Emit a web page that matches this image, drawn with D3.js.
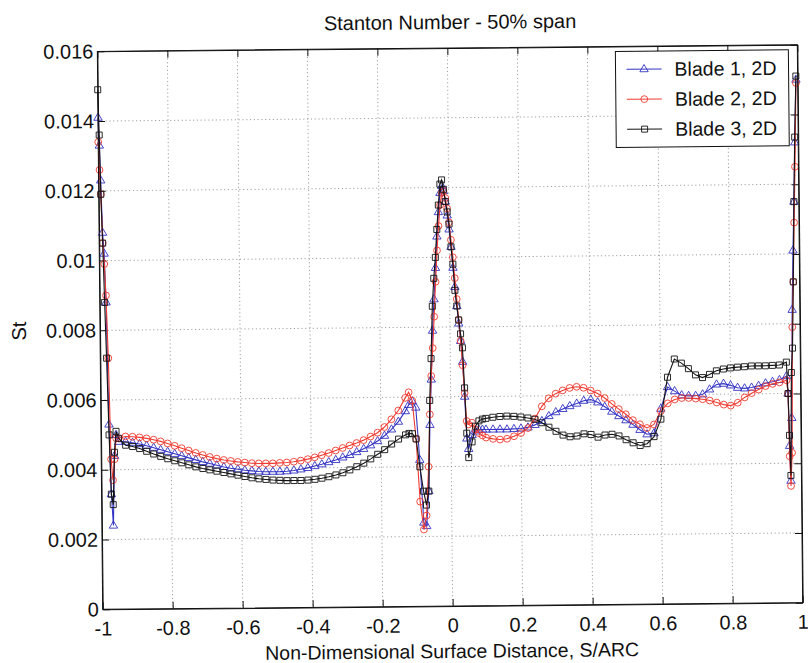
<!DOCTYPE html>
<html><head><meta charset="utf-8">
<script src="https://cdn.jsdelivr.net/npm/d3@7"></script>
<style>
body{margin:0;background:#fff}
svg{display:block}
text{font-family:"Liberation Sans",Arial,Helvetica,sans-serif;fill:#111}
</style>
</head><body>
<svg id="chart" width="808" height="663"></svg>
<script>
const chartTitle = "Stanton Number - 50% span";
const xLabel = "Non-Dimensional Surface Distance, S/ARC";
const yLabel = "St";
const xTicks = [-1, -0.8, -0.6, -0.4, -0.2, 0, 0.2, 0.4, 0.6, 0.8, 1];
const yTicks = [0, 0.002, 0.004, 0.006, 0.008, 0.01, 0.012, 0.014, 0.016];
const seriesNames = ["Blade 1, 2D", "Blade 2, 2D", "Blade 3, 2D"];

// S/ARC positions (shared by the three blades)
const sArc = [
  -1.0, -0.997, -0.994, -0.99, -0.986, -0.982, -0.977, -0.972, -0.967, -0.962, -0.957, -0.95,
  -0.93, -0.91, -0.89, -0.87, -0.85, -0.83, -0.81, -0.79, -0.77, -0.75,
  -0.73, -0.71, -0.69, -0.67, -0.65, -0.63, -0.61, -0.59, -0.57, -0.55,
  -0.53, -0.51, -0.49, -0.47, -0.45, -0.43, -0.41, -0.39, -0.37, -0.35,
  -0.33, -0.31, -0.29, -0.27, -0.25, -0.23, -0.21, -0.19, -0.17, -0.15,
  -0.13, -0.12, -0.11, -0.10, -0.09, -0.08, -0.072, -0.065, -0.06, -0.055,
  -0.05, -0.045, -0.04, -0.035, -0.03, -0.025, -0.02, -0.015, -0.01, -0.005,
  0.0, 0.005, 0.01, 0.015, 0.02, 0.025, 0.03, 0.035, 0.04, 0.045,
  0.05, 0.06, 0.07, 0.08, 0.09,
  0.10, 0.12, 0.14, 0.16, 0.18, 0.20, 0.22, 0.24, 0.26, 0.28,
  0.30, 0.32, 0.34, 0.36, 0.38, 0.40, 0.42, 0.44, 0.46, 0.48,
  0.50, 0.52, 0.54, 0.56, 0.58, 0.60, 0.62, 0.64, 0.66, 0.68,
  0.70, 0.72, 0.74, 0.76, 0.78, 0.80, 0.82, 0.84, 0.86, 0.88,
  0.90, 0.92, 0.94, 0.96,
  0.964, 0.967, 0.970, 0.974, 0.978, 0.982, 0.986, 0.990, 0.995
];

const blade1 = [
  0.0141, 0.0133, 0.0123, 0.0108, 0.0102, 0.0088, 0.0053, 0.0033, 0.0024, 0.0044, 0.0050, 0.0048,
  0.00480, 0.00477, 0.00473, 0.00468, 0.00462, 0.00456, 0.00450, 0.00444, 0.00438, 0.00432,
  0.00426, 0.00420, 0.00415, 0.00410, 0.00405, 0.00401, 0.00398, 0.00395, 0.00393, 0.00391,
  0.00390, 0.00390, 0.00390, 0.00391, 0.00393, 0.00396, 0.00400, 0.00405, 0.00410, 0.00416,
  0.00422, 0.00429, 0.00436, 0.00444, 0.00453, 0.00463, 0.00475, 0.00490, 0.00508, 0.00530,
  0.00560, 0.00578, 0.00588, 0.00570, 0.00420, 0.00240, 0.00230, 0.00330, 0.00520, 0.00650,
  0.00790, 0.00880, 0.00970, 0.01060, 0.01130, 0.01185, 0.01205, 0.01190, 0.01160, 0.01120,
  0.01080, 0.01030, 0.00970, 0.00915, 0.00860, 0.00810, 0.00760, 0.00700, 0.00600, 0.00480,
  0.00450, 0.00490, 0.00500, 0.00505, 0.00505,
  0.00505, 0.00505, 0.00505, 0.00505, 0.00506, 0.00507, 0.00510, 0.00517, 0.00528, 0.00542,
  0.00553, 0.00562, 0.00570, 0.00577, 0.00585, 0.00588, 0.00580, 0.00567, 0.00553, 0.00540,
  0.00528, 0.00515, 0.00500, 0.00487, 0.00490, 0.00560, 0.00622, 0.00610, 0.00598, 0.00596,
  0.00596, 0.00600, 0.00614, 0.00628, 0.00630, 0.00625, 0.00618, 0.00616, 0.00618, 0.00623,
  0.00630, 0.00634, 0.00639, 0.00650,
  0.00600, 0.00450, 0.00350, 0.00530, 0.00840, 0.01010, 0.01150, 0.01320, 0.01500
];

const blade2 = [
  0.0134, 0.0126, 0.0119, 0.0105, 0.0099, 0.0090, 0.0072, 0.0043, 0.0037, 0.0043, 0.0049, 0.0049,
  0.00495, 0.00494, 0.00492, 0.00489, 0.00485, 0.00480, 0.00474, 0.00467, 0.00460, 0.00453,
  0.00446, 0.00440, 0.00434, 0.00429, 0.00425, 0.00422, 0.00419, 0.00417, 0.00415, 0.00414,
  0.00414, 0.00414, 0.00415, 0.00416, 0.00418, 0.00421, 0.00425, 0.00430, 0.00436, 0.00442,
  0.00449, 0.00456, 0.00463, 0.00470, 0.00478, 0.00488, 0.00499, 0.00515, 0.00537, 0.00562,
  0.00598, 0.00614, 0.00590, 0.00480, 0.00300, 0.00220, 0.00260, 0.00400, 0.00550, 0.00660,
  0.00740, 0.00830, 0.00930, 0.01020, 0.01090, 0.01150, 0.01185, 0.01190, 0.01170, 0.01140,
  0.01100, 0.01050, 0.01000, 0.00940, 0.00880, 0.00820, 0.00760, 0.00690, 0.00610, 0.00530,
  0.00520, 0.00525, 0.00505, 0.00495, 0.00488,
  0.00482, 0.00478, 0.00476, 0.00478, 0.00485, 0.00494, 0.00508, 0.00535, 0.00570, 0.00593,
  0.00606, 0.00615, 0.00622, 0.00625, 0.00622, 0.00614, 0.00605, 0.00592, 0.00575, 0.00560,
  0.00545, 0.00528, 0.00516, 0.00505, 0.00515, 0.00553, 0.00575, 0.00586, 0.00590, 0.00590,
  0.00588, 0.00586, 0.00582, 0.00576, 0.00570, 0.00567, 0.00575, 0.00590, 0.00602, 0.00612,
  0.00622, 0.00628, 0.00632, 0.00638,
  0.00600, 0.00420, 0.00335, 0.00430, 0.00790, 0.00920, 0.01090, 0.01250, 0.01490
];

const blade3 = [
  0.0149, 0.0136, 0.0119, 0.0105, 0.0088, 0.0072, 0.0050, 0.0033, 0.0030, 0.0045, 0.0051, 0.0049,
  0.00470, 0.00466, 0.00460, 0.00452, 0.00444, 0.00437, 0.00430, 0.00424, 0.00418, 0.00412,
  0.00406, 0.00401, 0.00397, 0.00393, 0.00389, 0.00385, 0.00381, 0.00377, 0.00373, 0.00370,
  0.00368, 0.00366, 0.00365, 0.00364, 0.00364, 0.00364, 0.00365, 0.00367, 0.00370, 0.00374,
  0.00379, 0.00385, 0.00393, 0.00402, 0.00412, 0.00424, 0.00437, 0.00450, 0.00466, 0.00480,
  0.00492, 0.00496, 0.00495, 0.00480, 0.00400, 0.00330, 0.00290, 0.00330, 0.00590, 0.00710,
  0.00860, 0.00940, 0.01000, 0.01080, 0.01150, 0.01210, 0.01222, 0.01195, 0.01160, 0.01130,
  0.01095, 0.01030, 0.00980, 0.00905, 0.00860, 0.00820, 0.00780, 0.00740, 0.00625, 0.00495,
  0.00425, 0.00470, 0.00515, 0.00530, 0.00535,
  0.00537, 0.00540, 0.00542, 0.00543, 0.00542, 0.00540, 0.00537, 0.00533, 0.00523, 0.00510,
  0.00498, 0.00487, 0.00482, 0.00484, 0.00490, 0.00488, 0.00480, 0.00486, 0.00488, 0.00483,
  0.00472, 0.00463, 0.00455, 0.00460, 0.00480, 0.00530, 0.00650, 0.00702, 0.00690, 0.00674,
  0.00656, 0.00648, 0.00657, 0.00667, 0.00672, 0.00675, 0.00677, 0.00678, 0.00680, 0.00680,
  0.00680, 0.00681, 0.00682, 0.00690,
  0.00600, 0.00480, 0.00365, 0.00660, 0.00730, 0.00920, 0.01150, 0.01335, 0.01510
];

const seriesColors = ["#3434c4", "#ef3b30", "#141414"];
const seriesMarkers = ["triangle", "circle", "square"];

// ---------------- drawing ----------------
const svg = d3.select("#chart");
const L = 100, R = 800, T = 48, B = 606;
const x = d3.scaleLinear().domain([-1, 1]).range([L, R]);
const y = d3.scaleLinear().domain([0, 0.016]).range([B, T]);

svg.append("rect").attr("width", 808).attr("height", 663).attr("fill", "#fff");

// the scanned original is slightly rotated
const g = svg.append("g").attr("transform", "rotate(-0.55,450,327)");

const fmt = d => String(+d.toFixed(3));

// grid
const grid = g.append("g").attr("stroke", "#8a8a8a").attr("stroke-width", 0.8)
  .attr("stroke-dasharray", "1.2,2.6");
grid.selectAll(".gx").data(xTicks.slice(1, -1)).join("line")
  .attr("x1", d => x(d)).attr("x2", d => x(d)).attr("y1", T).attr("y2", B);
grid.selectAll(".gy").data(yTicks.slice(1, -1)).join("line")
  .attr("y1", d => y(d)).attr("y2", d => y(d)).attr("x1", L).attr("x2", R);

// axes
function styleAxis(sel) {
  sel.selectAll("path").attr("stroke", "#111").attr("stroke-width", 1);
  sel.selectAll("line").attr("stroke", "#111").attr("stroke-width", 1);
  sel.selectAll("text").attr("font-size", 20).attr("fill", "#111")
    .style("font-family", '"Liberation Sans", Arial, sans-serif');
}
const xAxis = g.append("g").attr("transform", `translate(0,${B})`)
  .call(d3.axisBottom(x).tickValues(xTicks).tickFormat(fmt).tickSizeInner(-7).tickSizeOuter(0).tickPadding(12));
styleAxis(xAxis);
const xAxisTop = g.append("g").attr("transform", `translate(0,${T})`)
  .call(d3.axisTop(x).tickValues(xTicks).tickFormat("").tickSizeInner(-7).tickSizeOuter(0));
styleAxis(xAxisTop);
const yAxis = g.append("g").attr("transform", `translate(${L},0)`)
  .call(d3.axisLeft(y).tickValues(yTicks).tickFormat(fmt).tickSizeInner(-7).tickSizeOuter(0).tickPadding(4));
styleAxis(yAxis);
const yAxisR = g.append("g").attr("transform", `translate(${R},0)`)
  .call(d3.axisRight(y).tickValues(yTicks).tickFormat("").tickSizeInner(-7).tickSizeOuter(0));
styleAxis(yAxisR);

// marker shapes
function markerPath(type) {
  if (type === "triangle") return "M0,-4.6L4.2,2.6L-4.2,2.6Z";
  if (type === "square") return "M-3,-3H3V3H-3Z";
  return "M3.4,0A3.4,3.4 0 1,1 -3.4,0A3.4,3.4 0 1,1 3.4,0Z";
}

// series
const allSeries = [blade1, blade2, blade3];
const line = d3.line().x(d => x(d[0])).y(d => y(d[1]));
const plot = g.append("g");
allSeries.forEach((vals, i) => {
  const pts = sArc.map((s, k) => [s, vals[k]]).filter(p => p[1] !== undefined);
  plot.append("path").datum(pts).attr("d", line).attr("fill", "none")
    .attr("stroke", seriesColors[i]).attr("stroke-width", 1.1);
  plot.append("g").selectAll("path").data(pts).join("path")
    .attr("transform", d => `translate(${x(d[0])},${y(d[1])})`)
    .attr("d", markerPath(seriesMarkers[i]))
    .attr("fill", "none").attr("stroke", seriesColors[i]).attr("stroke-width", 0.9);
});

// legend
const lg = g.append("g").attr("transform", "translate(618,53)");
lg.append("rect").attr("width", 173).attr("height", 96).attr("fill", "#fff")
  .attr("stroke", "#111").attr("stroke-width", 1);
seriesNames.forEach((name, i) => {
  const yy = 18 + i * 30;
  lg.append("line").attr("x1", 11).attr("x2", 46).attr("y1", yy).attr("y2", yy)
    .attr("stroke", seriesColors[i]).attr("stroke-width", 1.1);
  lg.append("path").attr("transform", `translate(28.5,${yy})`).attr("d", markerPath(seriesMarkers[i]))
    .attr("fill", "none").attr("stroke", seriesColors[i]).attr("stroke-width", 0.9);
  lg.append("text").attr("x", 59).attr("y", yy + 7).attr("font-size", 19.5).text(name);
});

// box outline on top
g.append("rect").attr("x", L).attr("y", T).attr("width", R - L).attr("height", B - T)
  .attr("fill", "none").attr("stroke", "#111").attr("stroke-width", 1);

// titles
g.append("text").attr("x", 453).attr("y", 29).attr("text-anchor", "middle")
  .attr("font-size", 20).text(chartTitle);
g.append("text").attr("x", 449).attr("y", 658).attr("text-anchor", "middle")
  .attr("font-size", 19.5).text(xLabel);
g.append("text").attr("transform", "translate(26,327) rotate(-90)").attr("text-anchor", "middle")
  .attr("font-size", 20).text(yLabel);
</script>
</body></html>
